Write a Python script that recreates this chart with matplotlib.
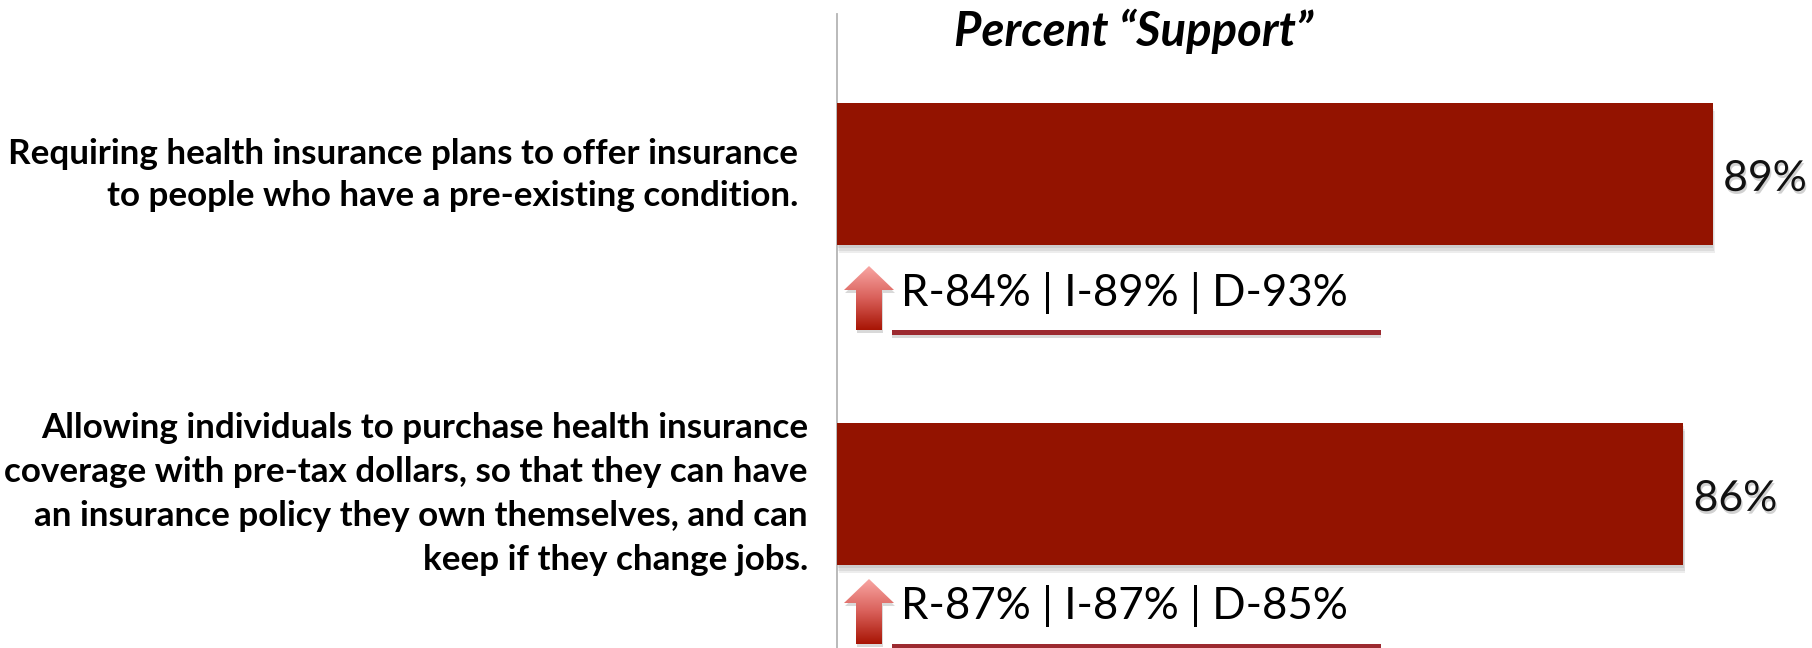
import numpy as np
import matplotlib
matplotlib.use("Agg")
import matplotlib.pyplot as plt
import matplotlib.patheffects as pe
from matplotlib.colors import LinearSegmentedColormap
from matplotlib.patches import Polygon, Rectangle

plt.rcParams['font.family'] = ['Lato', 'DejaVu Sans']

# data
questions = [
    "Requiring health insurance plans to offer insurance\nto people who have a pre-existing condition.",
    "Allowing individuals to purchase health insurance\ncoverage with pre-tax dollars, so that they can have\nan insurance policy they own themselves, and can\nkeep if they change jobs.",
]
support = [89, 86]
party_labels = ["R-84% | I-89% | D-93%", "R-87% | I-87% | D-85%"]
title = "Percent \u201cSupport\u201d"

# layout in reference pixels
W, H = 1812, 648
axis_x = 837
px_per_pct = 9.84
row_centers = [174, 494]
row_gap = row_centers[1] - row_centers[0]
bar_px = 142
label_right = [798, 808]
label_y = [175, 494]
label_spacing = [1.41, 1.47]
party_base = [306, 619]
arrow_tip = [266, 579]
arrow_bottom = [330, 644]
rule_y = [330, 644]

bar_color = "#931300"
rule_color = "#9c2a30"


def soft_shadow(dy=-2, strength=0.07):
    # stacked offsets, looks like the soft office shadow
    fx = [pe.SimplePatchShadow(offset=(0.5 * i, dy * i), shadow_rgbFace="k", alpha=strength) for i in (3, 2, 1)]
    return fx + [pe.Normal()]


fig = plt.figure(figsize=(W / 100, H / 100), dpi=100, facecolor="white")

# bars on a real value axis
ax = fig.add_axes([axis_x / W, 0, 1 - axis_x / W, 1])
ax.set_xlim(0, (W - axis_x) / px_per_pct)
ax.set_ylim((H - row_centers[0]) / row_gap, -row_centers[0] / row_gap)
ax.patch.set_alpha(0)
bars = ax.barh(range(len(support)), support, height=bar_px / row_gap, color=bar_color, linewidth=0, zorder=3)
for b in bars:
    b.set_path_effects(soft_shadow())
ax.set_xticks([])
ax.set_yticks([])
for s in ["top", "right", "bottom"]:
    ax.spines[s].set_visible(False)
ax.spines["left"].set_color("#b4b4b4")
ax.spines["left"].set_linewidth(1.3)
ax.spines["left"].set_bounds(ax.get_ylim()[0], (14 - row_centers[0]) / row_gap)

for i, v in enumerate(support):
    ax.annotate(f"{v}%", (v, i), xytext=(7.5, -1), textcoords="offset points", va="center_baseline", ha="left",
                fontsize=30.7, color="#111111",
                path_effects=[pe.withSimplePatchShadow(offset=(1, -2), shadow_rgbFace="k", alpha=0.18)])

# overlay in pixels for the text blocks and arrows
ov = fig.add_axes([0, 0, 1, 1], zorder=5)
ov.set_axis_off()
ov.patch.set_alpha(0)

ov.text(1134, 31, title, fontsize=34, fontweight="bold", fontstyle="italic", ha="center", va="center", color="black")

grad = LinearSegmentedColormap.from_list("arrow", ["#f8a5a2", "#d9605a", "#a81505"])
gy = np.linspace(0, 1, 64).reshape(-1, 1)
for i, q in enumerate(questions):
    ov.text(label_right[i], label_y[i], q, ha="right", va="center",
            fontsize=25.2, fontweight="bold", linespacing=label_spacing[i], color="black")
    ov.text(901, party_base[i], party_labels[i], ha="left", va="baseline", fontsize=31.6, color="black")

    # arrow
    top, bot = arrow_tip[i], arrow_bottom[i]
    neck = top + 24
    pts = [(869, top), (894, neck), (882, neck), (882, bot), (856, bot), (856, neck), (844, neck)]
    sh = Polygon([(x + 1, y + 3) for x, y in pts], closed=True, facecolor="k", alpha=0.15, linewidth=0)
    ov.add_patch(sh)
    im = ov.imshow(gy, cmap=grad, extent=(844, 894, bot, top), aspect="auto", zorder=3)
    poly = Polygon(pts, closed=True, transform=ov.transData, facecolor="none", linewidth=0)
    ov.add_patch(poly)
    im.set_clip_path(poly)

    # rule under the party split
    ov.add_patch(Rectangle((892, rule_y[i] + 3), 489, 5, facecolor="k", alpha=0.15, linewidth=0))
    ov.add_patch(Rectangle((892, rule_y[i]), 489, 5, facecolor=rule_color, linewidth=0, zorder=3))

ov.set_xlim(0, W)
ov.set_ylim(H, 0)

fig.savefig("out.png", dpi=100)
